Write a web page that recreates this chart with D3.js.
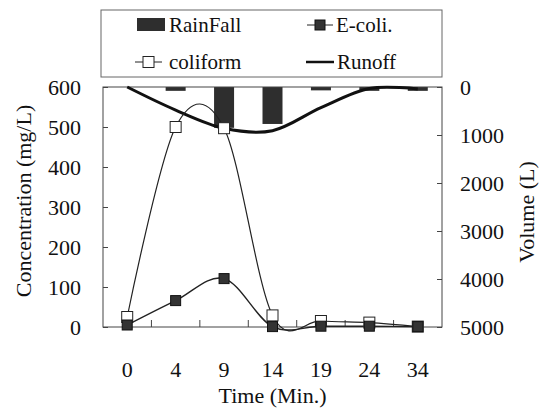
<!DOCTYPE html>
<html>
<head>
<meta charset="utf-8">
<script src="https://cdn.jsdelivr.net/npm/d3@7"></script>
<style>
  body { margin: 0; background: #fff; }
  svg { display: block; }
  svg text { font-family: "Liberation Serif", "Times New Roman", Times, "DejaVu Serif", serif !important; }
</style>
</head>
<body>
<div id="chart"></div>
<script>
// Data
var times = ["0", "4", "9", "14", "19", "24", "34"];
var coliform = [25, 500, 497, 29, 15, 11, 1];
var ecoli = [5, 66, 121, 1, 2, 2, 1];
var runoff = [0, 480, 860, 910, 430, 30, 40];       // Volume (L)
var rainfall = [0, 0.8, 8.5, 7.7, 0.7, 0.8, 0.8];    // hangs from the top
var concTicks = [0, 100, 200, 300, 400, 500, 600];
var volTicks = [0, 1000, 2000, 3000, 4000, 5000];

var W = 546, H = 417;
var plotL = 103, plotR = 442, plotT = 87, plotB = 327;

var svg = d3.select("#chart").append("svg")
    .attr("width", W)
    .attr("height", H);

// scales
var x = d3.scaleBand().domain(times).range([plotL, plotR]);
var cx = function(i) { return x(times[i]) + x.bandwidth() / 2; };
var yConc = d3.scaleLinear().domain([0, 600]).range([plotB, plotT]);
var yVol = d3.scaleLinear().domain([0, 5000]).range([plotT, plotB]);
var yRain = d3.scaleLinear().domain([0, 50]).range([plotT, plotB]);

// rainfall bars from the top
svg.append("g").selectAll("rect")
    .data(rainfall.map(function(v, i) { return {v: v, i: i}; }).filter(function(d) { return d.v > 0; }))
    .enter()
    .append("rect")
    .attr("x", function(d) { return cx(d.i) - 10; })
    .attr("width", 20)
    .attr("y", yRain(0))
    .attr("height", function(d) { return yRain(d.v) - yRain(0); })
    .attr("fill", "#2e2e2e");

// frame
svg.append("rect")
    .attr("x", plotL).attr("y", plotT)
    .attr("width", plotR - plotL).attr("height", plotB - plotT)
    .attr("fill", "none").attr("stroke", "#444").attr("stroke-width", 1);

// axes
var axL = svg.append("g")
    .attr("transform", "translate(" + plotL + ",0)")
    .call(d3.axisLeft(yConc).tickValues(concTicks).tickSize(-5).tickPadding(22));
var axR = svg.append("g")
    .attr("transform", "translate(" + plotR + ",0)")
    .call(d3.axisRight(yVol).tickValues(volTicks).tickSize(-5).tickPadding(18).tickFormat(d3.format("d")));
var axB = svg.append("g")
    .attr("transform", "translate(0," + plotB + ")")
    .call(d3.axisBottom(x).tickSize(0).tickPadding(34));
[axL, axR, axB].forEach(function(a) {
    a.attr("font-family", null);
    a.select(".domain").remove();
    a.selectAll("text")
        .attr("font-size", 22)
        .attr("fill", "#111");
    a.selectAll("line").attr("stroke", "#444");
});

// x ticks at the band edges
svg.append("g").selectAll("line")
    .data(times.slice(1))
    .enter()
    .append("line")
    .attr("x1", function(d) { return x(d); })
    .attr("x2", function(d) { return x(d); })
    .attr("y1", plotB)
    .attr("y2", plotB - 7)
    .attr("stroke", "#444");

// lines
var smooth = d3.curveCatmullRom.alpha(0);
var lineOf = function(scale) {
    return d3.line()
        .x(function(d, i) { return cx(i); })
        .y(function(d) { return scale(d); })
        .curve(smooth);
};

svg.append("path")
    .datum(runoff)
    .attr("d", lineOf(yVol))
    .attr("fill", "none")
    .attr("stroke", "#111")
    .attr("stroke-width", 3);

svg.append("path")
    .datum(coliform)
    .attr("d", lineOf(yConc))
    .attr("fill", "none")
    .attr("stroke", "#222")
    .attr("stroke-width", 1.2);

svg.append("path")
    .datum(ecoli)
    .attr("d", lineOf(yConc))
    .attr("fill", "none")
    .attr("stroke", "#222")
    .attr("stroke-width", 1.4);

// markers
svg.append("g").selectAll("rect")
    .data(coliform)
    .enter()
    .append("rect")
    .attr("x", function(d, i) { return cx(i) - 5.5; })
    .attr("y", function(d) { return yConc(d) - 5.5; })
    .attr("width", 11).attr("height", 11)
    .attr("fill", "#fff").attr("stroke", "#222");

svg.append("g").selectAll("rect")
    .data(ecoli)
    .enter()
    .append("rect")
    .attr("x", function(d, i) { return cx(i) - 5; })
    .attr("y", function(d) { return yConc(d) - 5; })
    .attr("width", 10).attr("height", 10)
    .attr("fill", "#333").attr("stroke", "#111");

// axis titles
svg.append("text")
    .attr("transform", "translate(31," + 201 + ") rotate(-90)")
    .attr("text-anchor", "middle")
    .attr("font-size", 22)
    .attr("fill", "#111")
    .text("Concentration (mg/L)");

svg.append("text")
    .attr("transform", "translate(534," + 212 + ") rotate(-90)")
    .attr("text-anchor", "middle")
    .attr("font-size", 22)
    .attr("fill", "#111")
    .text("Volume (L)");

svg.append("text")
    .attr("x", (plotL + plotR) / 2)
    .attr("y", 403)
    .attr("text-anchor", "middle")
    .attr("font-size", 22)
    .attr("fill", "#111")
    .text("Time (Min.)");

// legend
var lg = svg.append("g");
lg.append("rect")
    .attr("x", 101).attr("y", 10)
    .attr("width", 341).attr("height", 67)
    .attr("fill", "#fff").attr("stroke", "#666");

lg.append("rect")
    .attr("x", 137).attr("y", 18).attr("width", 28).attr("height", 13)
    .attr("fill", "#2e2e2e");
lg.append("text").attr("x", 169).attr("y", 32).attr("font-size", 21).attr("fill", "#111").text("RainFall");

lg.append("line").attr("x1", 307).attr("x2", 333).attr("y1", 25).attr("y2", 25).attr("stroke", "#222");
lg.append("rect").attr("x", 315).attr("y", 20).attr("width", 10).attr("height", 10)
    .attr("fill", "#333").attr("stroke", "#111");
lg.append("text").attr("x", 336).attr("y", 32).attr("font-size", 21).attr("fill", "#111").text("E-coli.");

lg.append("line").attr("x1", 135).attr("x2", 162).attr("y1", 62).attr("y2", 62).attr("stroke", "#222");
lg.append("rect").attr("x", 143).attr("y", 56.5).attr("width", 11).attr("height", 11)
    .attr("fill", "#fff").attr("stroke", "#222");
lg.append("text").attr("x", 169).attr("y", 69).attr("font-size", 21).attr("fill", "#111").text("coliform");

lg.append("line").attr("x1", 306).attr("x2", 334).attr("y1", 62).attr("y2", 62)
    .attr("stroke", "#111").attr("stroke-width", 2.5);
lg.append("text").attr("x", 337).attr("y", 69).attr("font-size", 21).attr("fill", "#111").text("Runoff");
</script>
</body>
</html>
